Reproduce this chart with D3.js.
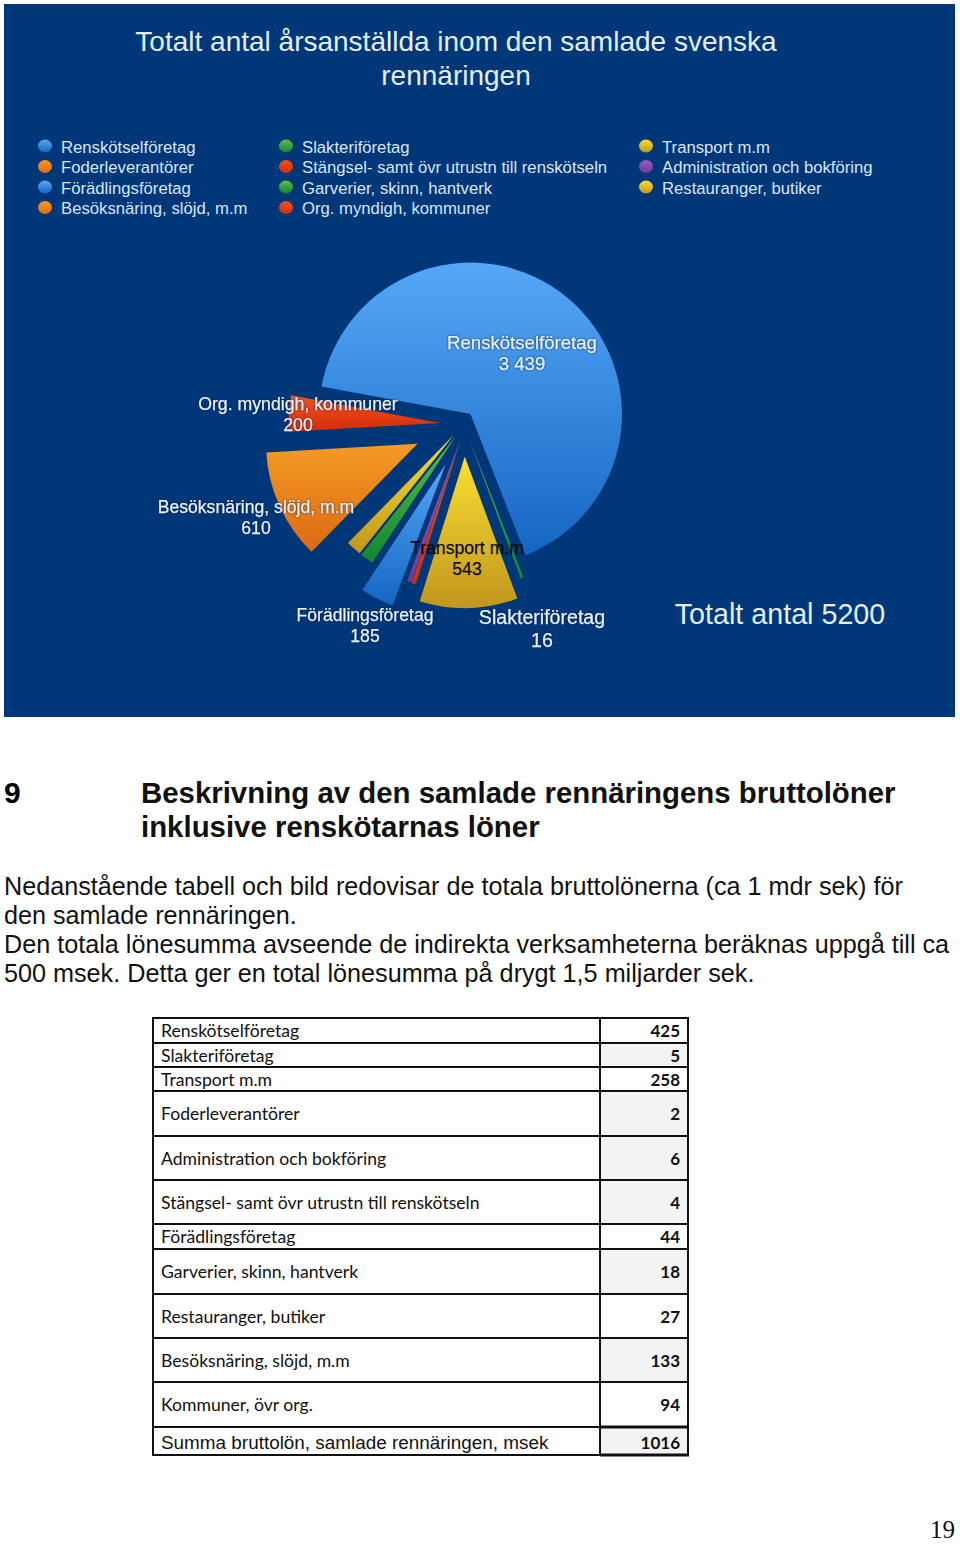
<!DOCTYPE html>
<html>
<head>
  <meta charset="utf-8"><script src="https://d3js.org/d3.v7.min.js"></script>
  <style>
    body { margin: 0; background: white; }
    svg { display: block; }
    text { font-family: "Liberation Sans", Arial, sans-serif; }
  </style>
</head>

<body>
  <svg id="mychart" width="960" height="1544" style="background: white"></svg>
</body>
<script>
  // pie, in legend order (small ones estimated, sum is 5200)
  const categories = ["Renskötselföretag", "Slakteriföretag", "Transport m.m", "Foderleverantörer",
    "Stängsel- samt övr utrustn till renskötseln", "Administration och bokföring", "Förädlingsföretag",
    "Garverier, skinn, hantverk", "Restauranger, butiker", "Besöksnäring, slöjd, m.m", "Org. myndigh, kommuner"]
  const values = [3439, 16, 543, 2, 22, 24, 185, 74, 85, 610, 200]

  const titleLines = ["Totalt antal årsanställda inom den samlade svenska", "rennäringen"]
  const totalLabel = "Totalt antal 5200"

  const headingNo = "9"
  const headingLines = ["Beskrivning av den samlade rennäringens bruttolöner", "inklusive renskötarnas löner"]
  const bodyLines = [
    "Nedanstående tabell och bild redovisar de totala bruttolönerna (ca 1 mdr sek) för",
    "den samlade rennäringen.",
    "Den totala lönesumma avseende de indirekta verksamheterna beräknas uppgå till ca",
    "500 msek. Detta ger en total lönesumma på drygt 1,5 miljarder sek."]

  const tableNames = ["Renskötselföretag", "Slakteriföretag", "Transport m.m", "Foderleverantörer",
    "Administration och bokföring", "Stängsel- samt övr utrustn till renskötseln", "Förädlingsföretag",
    "Garverier, skinn, hantverk", "Restauranger, butiker", "Besöksnäring, slöjd, m.m", "Kommuner, övr org.",
    "Summa bruttolön, samlade rennäringen, msek"]
  const tableValues = [425, 5, 258, 2, 6, 4, 44, 18, 27, 133, 94, 1016]
  const pageNumber = "19"

  // styling
  const palette = [["#55a8f8", "#1566c2"], ["#5cc04a", "#12852f"], ["#f9e030", "#c2961f"],
    ["#f59a25", "#dc6a12"], ["#f0521e", "#d42c08"], ["#9a5cc0", "#6b3c9c"]]
  const explode = [18, 9, 28.5, 12, 12, 12, 40, 9, 9, 45, 18]
  // the slide's slices do not quite pull out along their middles
  const nudgeX = [-1, 5, 4, 4.5, 4.5, 4.5, 4, 1, 0, -1.5, -2]
  const nudgeY = [0, 0, 0, 0, 0, 0, 0, 1, 0, -3, -4]
  const center = [460, 428], radius = 151.5
  const rad = a => a * Math.PI / 180

  const svg = d3.select("#mychart")
  const defs = svg.append("defs")
  palette.forEach((c, i) => {
    const g = defs.append("linearGradient").attr("id", "grad" + i)
      .attr("x1", 0).attr("y1", 0).attr("x2", 0).attr("y2", 1)
    g.append("stop").attr("offset", "0%").attr("stop-color", c[0])
    g.append("stop").attr("offset", "100%").attr("stop-color", c[1])
  })
  const fillFor = i => `url(#grad${i % palette.length})`

  // blue slide
  svg.append("rect").attr("x", 4).attr("y", 4).attr("width", 951).attr("height", 713).attr("fill", "#003778")

  svg.append("g").selectAll("text").data(titleLines).join("text")
    .attr("x", 456).attr("y", (d, i) => 51 + i * 34)
    .attr("text-anchor", "middle").attr("font-size", 28).attr("fill", "#e4eefa").text(d => d)

  // legend runs row by row over three columns
  const legendRows = [0, 3, 6, 9, 1, 4, 7, 10, 2, 5, 8]
  const legendX = d3.scaleOrdinal().domain([0, 1, 2]).range([45, 286, 646])
  const legendY = d3.scalePoint().domain([0, 1, 2, 3]).range([146, 207.5])
  const legendCell = i => {
    const k = legendRows.indexOf(i)
    return k < 4 ? [0, k] : k < 8 ? [1, k - 4] : [2, k - 8]
  }
  const legend = svg.append("g").selectAll("g").data(categories).join("g")
    .attr("transform", (d, i) => `translate(${legendX(legendCell(i)[0])},${legendY(legendCell(i)[1])})`)
  legend.append("ellipse").attr("rx", 7).attr("ry", 6.5).attr("fill", (d, i) => fillFor(i))
  legend.append("text").attr("x", 16).attr("y", 6.5).attr("font-size", 16.7)
    .attr("fill", "#d8e6f6").text(d => d)

  // exploded pie
  const pie = d3.pie().sort(null).startAngle(rad(-79.5)).endAngle(rad(280.5))
  const arc = d3.arc().innerRadius(0).outerRadius(radius)
  svg.append("g").attr("transform", `translate(${center})`)
    .selectAll("path").data(pie(values)).join("path")
    .attr("transform", (d, i) => {
      const mid = (d.startAngle + d.endAngle) / 2
      return `translate(${explode[i] * Math.sin(mid) + nudgeX[i]},${-explode[i] * Math.cos(mid) + nudgeY[i]})`
    })
    .attr("fill", (d, i) => fillFor(i))
    .attr("d", arc)

  // labels sit where the slide had them: name, value, x, y, size, colour
  const pieLabels = [
    ["Renskötselföretag", "3 439", 522, 349, 18.6, "#e8f1fb"],
    ["Org. myndigh, kommuner", "200", 298, 410, 17.7, "#e8f1fb"],
    ["Besöksnäring, slöjd, m.m", "610", 256, 513, 17.6, "#e8f1fb"],
    ["Transport m.m", "543", 467, 554, 17.6, "#0c0c10"],
    ["Förädlingsföretag", "185", 365, 621, 17.6, "#e8f1fb"],
    ["Slakteriföretag", "16", 542, 624, 19.6, "#e8f1fb"]]
  const labels = svg.append("g").selectAll("g").data(pieLabels).join("g")
    .attr("text-anchor", "middle").attr("fill", d => d[5])
    .attr("stroke", d => d[5]).attr("stroke-width", 0.25)
    .style("filter", d => d[5] == "#0c0c10" ? "none" : "drop-shadow(0 0 1px rgba(0,20,60,.7))")
  labels.append("text").attr("x", d => d[2]).attr("y", d => d[3])
    .attr("font-size", d => d[4]).text(d => d[0])
  labels.append("text").attr("x", d => d[2]).attr("y", d => d[3] + 21)
    .attr("font-size", d => d[4]).attr("dy", d => d[0] == "Slakteriföretag" ? 2 : 0).text(d => d[1])

  svg.append("text").attr("x", 780).attr("y", 624).attr("text-anchor", "middle")
    .attr("font-size", 28.7).attr("fill", "#e4eefa").text(totalLabel)

  // text section
  svg.append("text").attr("x", 4).attr("y", 803).attr("font-size", 30).attr("font-weight", "bold").text(headingNo)
  svg.append("g").selectAll("text").data(headingLines).join("text")
    .attr("x", 141).attr("y", (d, i) => 803 + i * 34)
    .attr("font-size", 29.4).attr("font-weight", "bold").attr("fill", "#111").text(d => d)
  svg.append("g").selectAll("text").data(bodyLines).join("text")
    .attr("x", 4).attr("y", (d, i) => 895 + i * 29)
    .attr("font-size", 25.2).attr("fill", "#111").text(d => d)

  // table
  const rowHeights = [25, 24, 24, 45, 44, 44, 25, 45, 44, 44, 45, 28]
  const rowTop = d3.cumsum([1018].concat(rowHeights))
  const colX = [153, 600, 688]
  const shaded = [1, 3, 4, 5, 7, 9, 11]
  const table = svg.append("g")
  const rows = table.selectAll("g").data(tableNames).join("g")
  rows.filter((d, i) => shaded.includes(i)).append("rect")
    .attr("x", colX[1]).attr("width", colX[2] - colX[1])
    .attr("y", d => rowTop[tableNames.indexOf(d)]).attr("height", d => rowHeights[tableNames.indexOf(d)])
    .attr("fill", "#f3f3f3")
  const midY = i => rowTop[i] + rowHeights[i] / 2 + (i == 11 ? 7.5 : 6.5)
  rows.append("text").attr("x", 161).attr("y", (d, i) => midY(i))
    .attr("font-size", (d, i) => i == 11 ? 18.9 : 17.6).attr("fill", "#111")
    .style("font-family", (d, i) => i == 11 ? '"Liberation Sans"' : "Lato").text(d => d)
  rows.append("text").attr("x", 680).attr("y", (d, i) => midY(i)).attr("text-anchor", "end")
    .attr("font-size", 17).attr("font-weight", "bold").attr("fill", "#111")
    .style("font-family", "Lato").text((d, i) => tableValues[i])
  table.selectAll("line.h").data(rowTop).join("line").attr("class", "h")
    .attr("x1", colX[0] - 1).attr("x2", colX[2] + 1).attr("y1", d => d).attr("y2", d => d)
    .attr("stroke", "#111").attr("stroke-width", 2)
  table.selectAll("line.v").data(colX).join("line").attr("class", "v")
    .attr("y1", rowTop[0]).attr("y2", rowTop[rowTop.length - 1]).attr("x1", d => d).attr("x2", d => d)
    .attr("stroke", "#111").attr("stroke-width", 2)
  // heavier rules round the total cell
  table.selectAll("line.total").data([rowTop[11], rowTop[12]]).join("line").attr("class", "total")
    .attr("x1", colX[1]).attr("x2", colX[2] + 1).attr("y1", d => d).attr("y2", d => d)
    .attr("stroke", "#111").attr("stroke-width", 3)

  svg.append("text").attr("x", 955).attr("y", 1538).attr("text-anchor", "end")
    .attr("font-size", 25).style("font-family", '"Liberation Serif"').attr("fill", "#111").text(pageNumber)
</script>
</html>
